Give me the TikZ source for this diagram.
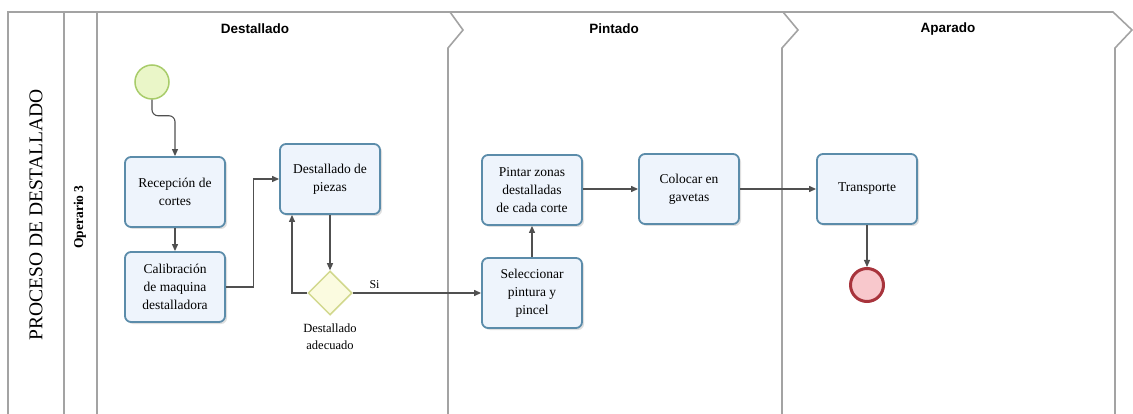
\documentclass[tikz,border=0pt]{standalone}
\usepackage{fontspec}
\setmainfont{Liberation Serif}
\newfontfamily\hdrfont{Liberation Sans}
\newfontfamily\boxfont{Liberation Serif}
\usetikzlibrary{arrows.meta,shadows,calc,shapes.geometric}
\definecolor{lanegray}{HTML}{A3A3A3}
\definecolor{boxborder}{HTML}{5B8CAA}
\definecolor{boxfill}{HTML}{EEF4FC}
\definecolor{startfill}{HTML}{EAF6C8}
\definecolor{startborder}{HTML}{A8CC6A}
\definecolor{gatefill}{HTML}{FBFBE0}
\definecolor{gateborder}{HTML}{D2D88E}
\definecolor{endfill}{HTML}{F8C8CC}
\definecolor{endborder}{HTML}{A8343C}
\definecolor{flow}{HTML}{505050}
\begin{document}
\begin{tikzpicture}[x=1pt,y=-1pt,
  lane/.style={draw=lanegray,line width=1.6pt},
  hdr/.style={font=\hdrfont\bfseries\fontsize{13.5}{16}\selectfont},
  task/.style={draw=boxborder,fill=boxfill,line width=1.8pt,rounded corners=6pt,
    minimum width=100pt,minimum height=70pt,align=center,inner sep=2pt,
    font=\boxfont\fontsize{13.5}{18}\selectfont,
    drop shadow={shadow xshift=2pt,shadow yshift=-2pt,opacity=0.25,fill=gray}},
  startev/.style={circle,draw=startborder,fill=startfill,line width=1.5pt,minimum size=34pt,inner sep=0pt},
  endev/.style={circle,draw=endborder,fill=endfill,line width=3pt,minimum size=33pt,inner sep=0pt},
  gate/.style={diamond,draw=gateborder,fill=gatefill,line width=1.5pt,minimum width=44pt,minimum height=44pt,inner sep=0pt},
  flowline/.style={draw=flow,line width=1.1pt,-{Triangle[length=7pt,width=6pt]}},
  lbl/.style={align=center,font=\boxfont\fontsize{12.5}{17}\selectfont}]
\useasboundingbox (0,0) rectangle (1133,414);
% pool and lanes
\draw[lane] (8,414) -- (8,12) -- (1113,12) -- (1132,30) -- (1115,48) -- (1115,414);
\draw[lane] (64,12) -- (64,414);
\draw[lane] (97,12) -- (97,414);
\draw[lane] (450,12) -- (463,30) -- (448,48) -- (448,414);
\draw[lane] (783,12) -- (798,30) -- (782,48) -- (782,414);
\node[hdr] (h1) at (255,29) {Destallado};
\node[hdr] (h2) at (614,29) {Pintado};
\node[hdr] (h3) at (948,29) {Aparado};
\node[rotate=90,font=\boxfont\fontsize{19.5}{22}\selectfont] (pool) at (36,215) {PROCESO DE DESTALLADO};
\node[rotate=90,font=\boxfont\bfseries\fontsize{13.5}{15}\selectfont] (op) at (80,217) {Operario 3};
% nodes
\node[startev] (start) at (152,82) {};
\node[task] (rec) at (175,192) {Recepción de\\cortes};
\node[task] (cal) at (175,287) {Calibración\\de maquina\\destalladora};
\node[task] (dest) at (330,179) {Destallado de\\piezas};
\node[gate] (dia) at (330,293) {};
\node[lbl] (dial) at (330,337) {Destallado\\adecuado};
\node[task] (pint) at (532,190) {Pintar zonas\\destalladas\\de cada corte};
\node[task] (sel) at (532,293) {Seleccionar\\pintura y\\pincel};
\node[task] (col) at (689,189) {Colocar en\\gavetas};
\node[task] (trans) at (867,189) {Transporte};
\node[endev] (end) at (867,285) {};
\coordinate (loopx) at (292,293);
% connectors
\draw[flowline,rounded corners=6pt] (start.south) -- ++(0,16) -| (rec.north);
\draw[flowline] (rec.south) -- (cal.north);
\draw[flowline] (cal.east) -- ++(28,0) |- (dest.west);
\draw[flowline] (dest.south) -- (dia.north);
\draw[flowline] (dia.west) -- (loopx) -- (loopx |- dest.south);
\draw[flowline] (dia.east) -- node[pos=0.17,above,font=\boxfont\fontsize{12}{13}\selectfont] (si) {Si} (sel.west);
\draw[flowline] (sel.north) -- (pint.south);
\draw[flowline] (pint.east |- col.west) -- (col.west);
\draw[flowline] (col.east) -- (trans.west);
\draw[flowline] (trans.south) -- (end.north);
\end{tikzpicture}
\end{document}
